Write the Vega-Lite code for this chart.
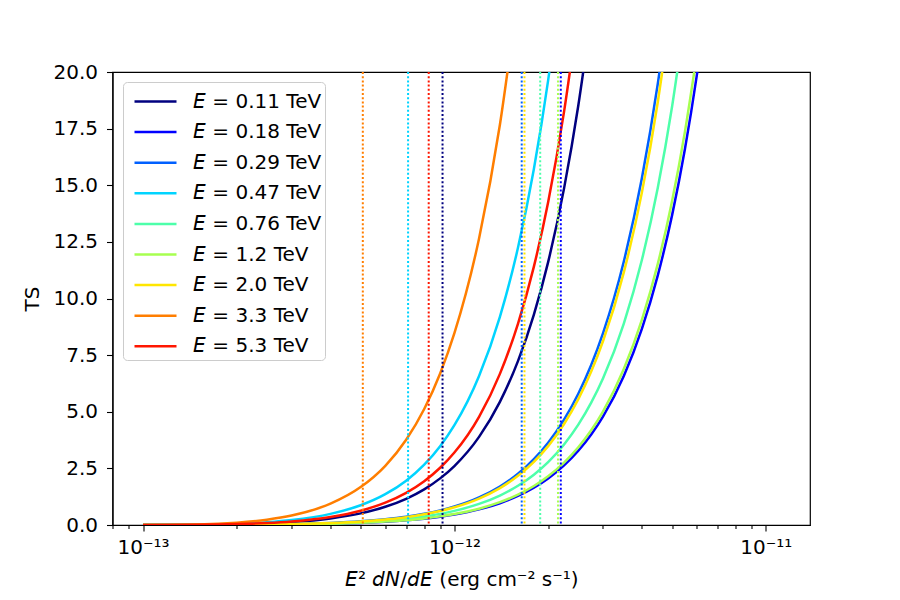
{
  "$schema": "https://vega.github.io/schema/vega-lite/v6.json",
  "width": 697.5,
  "height": 453,
  "autosize": {"type": "none"},
  "padding": {"left": 112.5, "top": 72, "right": 90, "bottom": 75},
  "background": "white",
  "config": {
    "font": "DejaVu Sans",
    "view": {"stroke": "#000000", "strokeWidth": 1.2},
    "axis": {
      "labelFont": "DejaVu Sans", "titleFont": "DejaVu Sans",
      "labelFontSize": 20, "titleFontSize": 20, "titleFontWeight": "normal",
      "labelColor": "#000000", "titleColor": "#000000",
      "tickColor": "#000000", "domainColor": "#000000", "domainWidth": 1.2,
      "tickWidth": 1.1, "grid": false
    }
  },
  "datasets": {
    "curves": [
      {"E": "0.11", "F": 1e-13, "TS": 0}, {"E": "0.11", "F": 1.5e-13, "TS": 0.008}, {"E": "0.11", "F": 2e-13, "TS": 0.032}, {"E": "0.11", "F": 2.5e-13, "TS": 0.072}, {"E": "0.11", "F": 3e-13, "TS": 0.129}, {"E": "0.11", "F": 4e-13, "TS": 0.289}, {"E": "0.11", "F": 5e-13, "TS": 0.514}, {"E": "0.11", "F": 6e-13, "TS": 0.804}, {"E": "0.11", "F": 7e-13, "TS": 1.157}, {"E": "0.11", "F": 8e-13, "TS": 1.575}, {"E": "0.11", "F": 9e-13, "TS": 2.058}, {"E": "0.11", "F": 1e-12, "TS": 2.604}, {"E": "0.11", "F": 1.2e-12, "TS": 3.89}, {"E": "0.11", "F": 1.4e-12, "TS": 5.434}, {"E": "0.11", "F": 1.6e-12, "TS": 7.234}, {"E": "0.11", "F": 1.8e-12, "TS": 9.292}, {"E": "0.11", "F": 2e-12, "TS": 11.607}, {"E": "0.11", "F": 2.25e-12, "TS": 14.862}, {"E": "0.11", "F": 2.5e-12, "TS": 18.519}, {"E": "0.11", "F": 2.75e-12, "TS": 22.578},

      {"E": "0.18", "F": 1e-13, "TS": 0}, {"E": "0.18", "F": 1.5e-13, "TS": 0.001}, {"E": "0.18", "F": 2e-13, "TS": 0.006}, {"E": "0.18", "F": 2.5e-13, "TS": 0.013}, {"E": "0.18", "F": 3e-13, "TS": 0.023}, {"E": "0.18", "F": 4e-13, "TS": 0.051}, {"E": "0.18", "F": 5e-13, "TS": 0.091}, {"E": "0.18", "F": 6e-13, "TS": 0.142}, {"E": "0.18", "F": 7e-13, "TS": 0.205}, {"E": "0.18", "F": 8e-13, "TS": 0.279}, {"E": "0.18", "F": 9e-13, "TS": 0.364}, {"E": "0.18", "F": 1e-12, "TS": 0.461}, {"E": "0.18", "F": 1.2e-12, "TS": 0.689}, {"E": "0.18", "F": 1.4e-12, "TS": 0.962}, {"E": "0.18", "F": 1.6e-12, "TS": 1.281}, {"E": "0.18", "F": 1.8e-12, "TS": 1.645}, {"E": "0.18", "F": 2e-12, "TS": 2.055}, {"E": "0.18", "F": 2.25e-12, "TS": 2.632}, {"E": "0.18", "F": 2.5e-12, "TS": 3.28}, {"E": "0.18", "F": 2.75e-12, "TS": 3.998}, {"E": "0.18", "F": 3e-12, "TS": 4.788}, {"E": "0.18", "F": 3.5e-12, "TS": 6.582}, {"E": "0.18", "F": 4e-12, "TS": 8.66}, {"E": "0.18", "F": 4.5e-12, "TS": 11.023}, {"E": "0.18", "F": 5e-12, "TS": 13.67}, {"E": "0.18", "F": 5.5e-12, "TS": 16.602}, {"E": "0.18", "F": 6e-12, "TS": 19.819}, {"E": "0.18", "F": 6.5e-12, "TS": 23.321},

      {"E": "0.29", "F": 1e-13, "TS": 0}, {"E": "0.29", "F": 1.5e-13, "TS": 0.003}, {"E": "0.29", "F": 2e-13, "TS": 0.01}, {"E": "0.29", "F": 2.5e-13, "TS": 0.023}, {"E": "0.29", "F": 3e-13, "TS": 0.04}, {"E": "0.29", "F": 4e-13, "TS": 0.091}, {"E": "0.29", "F": 5e-13, "TS": 0.161}, {"E": "0.29", "F": 6e-13, "TS": 0.252}, {"E": "0.29", "F": 7e-13, "TS": 0.362}, {"E": "0.29", "F": 8e-13, "TS": 0.493}, {"E": "0.29", "F": 9e-13, "TS": 0.644}, {"E": "0.29", "F": 1e-12, "TS": 0.815}, {"E": "0.29", "F": 1.2e-12, "TS": 1.218}, {"E": "0.29", "F": 1.4e-12, "TS": 1.701}, {"E": "0.29", "F": 1.6e-12, "TS": 2.264}, {"E": "0.29", "F": 1.8e-12, "TS": 2.909}, {"E": "0.29", "F": 2e-12, "TS": 3.633}, {"E": "0.29", "F": 2.25e-12, "TS": 4.652}, {"E": "0.29", "F": 2.5e-12, "TS": 5.797}, {"E": "0.29", "F": 2.75e-12, "TS": 7.067}, {"E": "0.29", "F": 3e-12, "TS": 8.464}, {"E": "0.29", "F": 3.5e-12, "TS": 11.634}, {"E": "0.29", "F": 4e-12, "TS": 15.307}, {"E": "0.29", "F": 4.5e-12, "TS": 19.484}, {"E": "0.29", "F": 5e-12, "TS": 24.164},

      {"E": "0.47", "F": 1e-13, "TS": 0}, {"E": "0.47", "F": 1.5e-13, "TS": 0.014}, {"E": "0.47", "F": 2e-13, "TS": 0.054}, {"E": "0.47", "F": 2.5e-13, "TS": 0.122}, {"E": "0.47", "F": 3e-13, "TS": 0.218}, {"E": "0.47", "F": 4e-13, "TS": 0.49}, {"E": "0.47", "F": 5e-13, "TS": 0.87}, {"E": "0.47", "F": 6e-13, "TS": 1.36}, {"E": "0.47", "F": 7e-13, "TS": 1.958}, {"E": "0.47", "F": 8e-13, "TS": 2.665}, {"E": "0.47", "F": 9e-13, "TS": 3.481}, {"E": "0.47", "F": 1e-12, "TS": 4.405}, {"E": "0.47", "F": 1.2e-12, "TS": 6.581}, {"E": "0.47", "F": 1.4e-12, "TS": 9.191}, {"E": "0.47", "F": 1.6e-12, "TS": 12.237}, {"E": "0.47", "F": 1.8e-12, "TS": 15.718}, {"E": "0.47", "F": 2e-12, "TS": 19.633}, {"E": "0.47", "F": 2.25e-12, "TS": 25.14},

      {"E": "0.76", "F": 1e-13, "TS": 0}, {"E": "0.76", "F": 1.5e-13, "TS": 0.002}, {"E": "0.76", "F": 2e-13, "TS": 0.008}, {"E": "0.76", "F": 2.5e-13, "TS": 0.017}, {"E": "0.76", "F": 3e-13, "TS": 0.031}, {"E": "0.76", "F": 4e-13, "TS": 0.069}, {"E": "0.76", "F": 5e-13, "TS": 0.123}, {"E": "0.76", "F": 6e-13, "TS": 0.192}, {"E": "0.76", "F": 7e-13, "TS": 0.277}, {"E": "0.76", "F": 8e-13, "TS": 0.377}, {"E": "0.76", "F": 9e-13, "TS": 0.492}, {"E": "0.76", "F": 1e-12, "TS": 0.623}, {"E": "0.76", "F": 1.2e-12, "TS": 0.931}, {"E": "0.76", "F": 1.4e-12, "TS": 1.3}, {"E": "0.76", "F": 1.6e-12, "TS": 1.731}, {"E": "0.76", "F": 1.8e-12, "TS": 2.223}, {"E": "0.76", "F": 2e-12, "TS": 2.777}, {"E": "0.76", "F": 2.25e-12, "TS": 3.556}, {"E": "0.76", "F": 2.5e-12, "TS": 4.431}, {"E": "0.76", "F": 2.75e-12, "TS": 5.402}, {"E": "0.76", "F": 3e-12, "TS": 6.469}, {"E": "0.76", "F": 3.5e-12, "TS": 8.892}, {"E": "0.76", "F": 4e-12, "TS": 11.699}, {"E": "0.76", "F": 4.5e-12, "TS": 14.891}, {"E": "0.76", "F": 5e-12, "TS": 18.468}, {"E": "0.76", "F": 5.5e-12, "TS": 22.429},

      {"E": "1.2", "F": 1e-13, "TS": 0}, {"E": "1.2", "F": 1.5e-13, "TS": 0.001}, {"E": "1.2", "F": 2e-13, "TS": 0.006}, {"E": "1.2", "F": 2.5e-13, "TS": 0.013}, {"E": "1.2", "F": 3e-13, "TS": 0.024}, {"E": "1.2", "F": 4e-13, "TS": 0.054}, {"E": "1.2", "F": 5e-13, "TS": 0.095}, {"E": "1.2", "F": 6e-13, "TS": 0.149}, {"E": "1.2", "F": 7e-13, "TS": 0.214}, {"E": "1.2", "F": 8e-13, "TS": 0.292}, {"E": "1.2", "F": 9e-13, "TS": 0.381}, {"E": "1.2", "F": 1e-12, "TS": 0.482}, {"E": "1.2", "F": 1.2e-12, "TS": 0.721}, {"E": "1.2", "F": 1.4e-12, "TS": 1.007}, {"E": "1.2", "F": 1.6e-12, "TS": 1.34}, {"E": "1.2", "F": 1.8e-12, "TS": 1.721}, {"E": "1.2", "F": 2e-12, "TS": 2.15}, {"E": "1.2", "F": 2.25e-12, "TS": 2.753}, {"E": "1.2", "F": 2.5e-12, "TS": 3.43}, {"E": "1.2", "F": 2.75e-12, "TS": 4.182}, {"E": "1.2", "F": 3e-12, "TS": 5.009}, {"E": "1.2", "F": 3.5e-12, "TS": 6.885}, {"E": "1.2", "F": 4e-12, "TS": 9.059}, {"E": "1.2", "F": 4.5e-12, "TS": 11.53}, {"E": "1.2", "F": 5e-12, "TS": 14.299}, {"E": "1.2", "F": 5.5e-12, "TS": 17.367}, {"E": "1.2", "F": 6e-12, "TS": 20.731},

      {"E": "2.0", "F": 1e-13, "TS": 0}, {"E": "2.0", "F": 1.5e-13, "TS": 0.002}, {"E": "2.0", "F": 2e-13, "TS": 0.01}, {"E": "2.0", "F": 2.5e-13, "TS": 0.022}, {"E": "2.0", "F": 3e-13, "TS": 0.039}, {"E": "2.0", "F": 4e-13, "TS": 0.087}, {"E": "2.0", "F": 5e-13, "TS": 0.154}, {"E": "2.0", "F": 6e-13, "TS": 0.241}, {"E": "2.0", "F": 7e-13, "TS": 0.347}, {"E": "2.0", "F": 8e-13, "TS": 0.473}, {"E": "2.0", "F": 9e-13, "TS": 0.617}, {"E": "2.0", "F": 1e-12, "TS": 0.782}, {"E": "2.0", "F": 1.2e-12, "TS": 1.167}, {"E": "2.0", "F": 1.4e-12, "TS": 1.63}, {"E": "2.0", "F": 1.6e-12, "TS": 2.171}, {"E": "2.0", "F": 1.8e-12, "TS": 2.788}, {"E": "2.0", "F": 2e-12, "TS": 3.483}, {"E": "2.0", "F": 2.25e-12, "TS": 4.46}, {"E": "2.0", "F": 2.5e-12, "TS": 5.557}, {"E": "2.0", "F": 2.75e-12, "TS": 6.775}, {"E": "2.0", "F": 3e-12, "TS": 8.114}, {"E": "2.0", "F": 3.5e-12, "TS": 11.153}, {"E": "2.0", "F": 4e-12, "TS": 14.674}, {"E": "2.0", "F": 4.5e-12, "TS": 18.678}, {"E": "2.0", "F": 5e-12, "TS": 23.164},

      {"E": "3.3", "F": 1e-13, "TS": 0}, {"E": "3.3", "F": 1.5e-13, "TS": 0.026}, {"E": "3.3", "F": 2e-13, "TS": 0.105}, {"E": "3.3", "F": 2.5e-13, "TS": 0.235}, {"E": "3.3", "F": 3e-13, "TS": 0.418}, {"E": "3.3", "F": 4e-13, "TS": 0.941}, {"E": "3.3", "F": 5e-13, "TS": 1.673}, {"E": "3.3", "F": 6e-13, "TS": 2.614}, {"E": "3.3", "F": 7e-13, "TS": 3.764}, {"E": "3.3", "F": 8e-13, "TS": 5.123}, {"E": "3.3", "F": 9e-13, "TS": 6.691}, {"E": "3.3", "F": 1e-12, "TS": 8.469}, {"E": "3.3", "F": 1.2e-12, "TS": 12.651}, {"E": "3.3", "F": 1.4e-12, "TS": 17.669}, {"E": "3.3", "F": 1.6e-12, "TS": 23.52},

      {"E": "5.3", "F": 1e-13, "TS": 0}, {"E": "5.3", "F": 1.5e-13, "TS": 0.01}, {"E": "5.3", "F": 2e-13, "TS": 0.039}, {"E": "5.3", "F": 2.5e-13, "TS": 0.089}, {"E": "5.3", "F": 3e-13, "TS": 0.158}, {"E": "5.3", "F": 4e-13, "TS": 0.355}, {"E": "5.3", "F": 5e-13, "TS": 0.632}, {"E": "5.3", "F": 6e-13, "TS": 0.987}, {"E": "5.3", "F": 7e-13, "TS": 1.421}, {"E": "5.3", "F": 8e-13, "TS": 1.934}, {"E": "5.3", "F": 9e-13, "TS": 2.527}, {"E": "5.3", "F": 1e-12, "TS": 3.198}, {"E": "5.3", "F": 1.2e-12, "TS": 4.777}, {"E": "5.3", "F": 1.4e-12, "TS": 6.672}, {"E": "5.3", "F": 1.6e-12, "TS": 8.882}, {"E": "5.3", "F": 1.8e-12, "TS": 11.409}, {"E": "5.3", "F": 2e-12, "TS": 14.251}, {"E": "5.3", "F": 2.25e-12, "TS": 18.248}, {"E": "5.3", "F": 2.5e-12, "TS": 22.739}
    ],
    "limits": [
      {"E": "0.11", "F": 9.16e-13},
      {"E": "0.18", "F": 2.196e-12},
      {"E": "0.29", "F": 1.645e-12},
      {"E": "0.47", "F": 7.10e-13},
      {"E": "0.76", "F": 1.886e-12},
      {"E": "1.2", "F": 2.151e-12},
      {"E": "2.0", "F": 1.679e-12},
      {"E": "3.3", "F": 5.08e-13},
      {"E": "5.3", "F": 8.27e-13}
    ]
  },
  "layer": [
    {
      "data": {"name": "curves"},
      "mark": {"type": "line", "interpolate": "monotone", "clip": true, "strokeWidth": 2.5},
      "encoding": {
        "x": {
          "field": "F", "type": "quantitative",
          "scale": {"type": "log", "domain": [7.98e-14, 1.3868e-11], "nice": false},
          "axis": {
            "orient": "bottom",
            "values": [1e-13, 1e-12, 1e-11],
            "labelExpr": "datum.value < 5e-13 ? '10⁻¹³' : (datum.value < 5e-12 ? '10⁻¹²' : '10⁻¹¹')",
            "tickSize": 6, "labelPadding": 6,
            "title": "𝘌² 𝘥𝘕/𝘥𝘌 (erg cm⁻² s⁻¹)", "titlePadding": 12
          }
        },
        "y": {
          "field": "TS", "type": "quantitative",
          "scale": {"domain": [0, 20], "nice": false, "zero": true},
          "axis": {
            "values": [0, 2.5, 5, 7.5, 10, 12.5, 15, 17.5, 20],
            "format": ".1f", "tickSize": 6, "labelPadding": 9,
            "title": "TS", "titlePadding": 10
          }
        },
        "color": {
          "field": "E", "type": "nominal",
          "scale": {
            "domain": ["0.11", "0.18", "0.29", "0.47", "0.76", "1.2", "2.0", "3.3", "5.3"],
            "range": ["#00007f", "#0000ff", "#0060ff", "#00d4ff", "#4dffaa", "#a7ff50", "#ffe600", "#ff7e00", "#ff1600"]
          },
          "legend": {
            "orient": "none", "legendX": 10.5, "legendY": 10,
            "title": null,
            "symbolType": "M-0.533,0H2.267", "symbolSize": 900, "symbolStrokeWidth": 2.5,
            "labelFont": "DejaVu Sans", "labelFontSize": 20, "labelColor": "#000000",
            "labelOffset": 34, "padding": 3, "rowPadding": 3.6,
            "strokeColor": "#cccccc", "cornerRadius": 4,
            "fillColor": "rgba(255,255,255,0.8)",
            "labelExpr": "'𝘌 = ' + datum.label + ' TeV'"
          }
        }
      }
    },
    {
      "data": {"name": "limits"},
      "mark": {"type": "rule", "strokeDash": [2, 2.2], "strokeWidth": 2},
      "encoding": {
        "x": {
          "field": "F", "type": "quantitative",
          "axis": {
            "orient": "bottom",
            "values": [8e-14, 9e-14, 2e-13, 3e-13, 4e-13, 5e-13, 6e-13, 7e-13, 8e-13, 9e-13, 2e-12, 3e-12, 4e-12, 5e-12, 6e-12, 7e-12, 8e-12, 9e-12],
            "labels": false, "domain": false, "tickSize": 3.5, "title": null
          }
        },
        "color": {"field": "E", "type": "nominal", "legend": null}
      }
    }
  ],
  "resolve": {"axis": {"x": "independent"}}
}
